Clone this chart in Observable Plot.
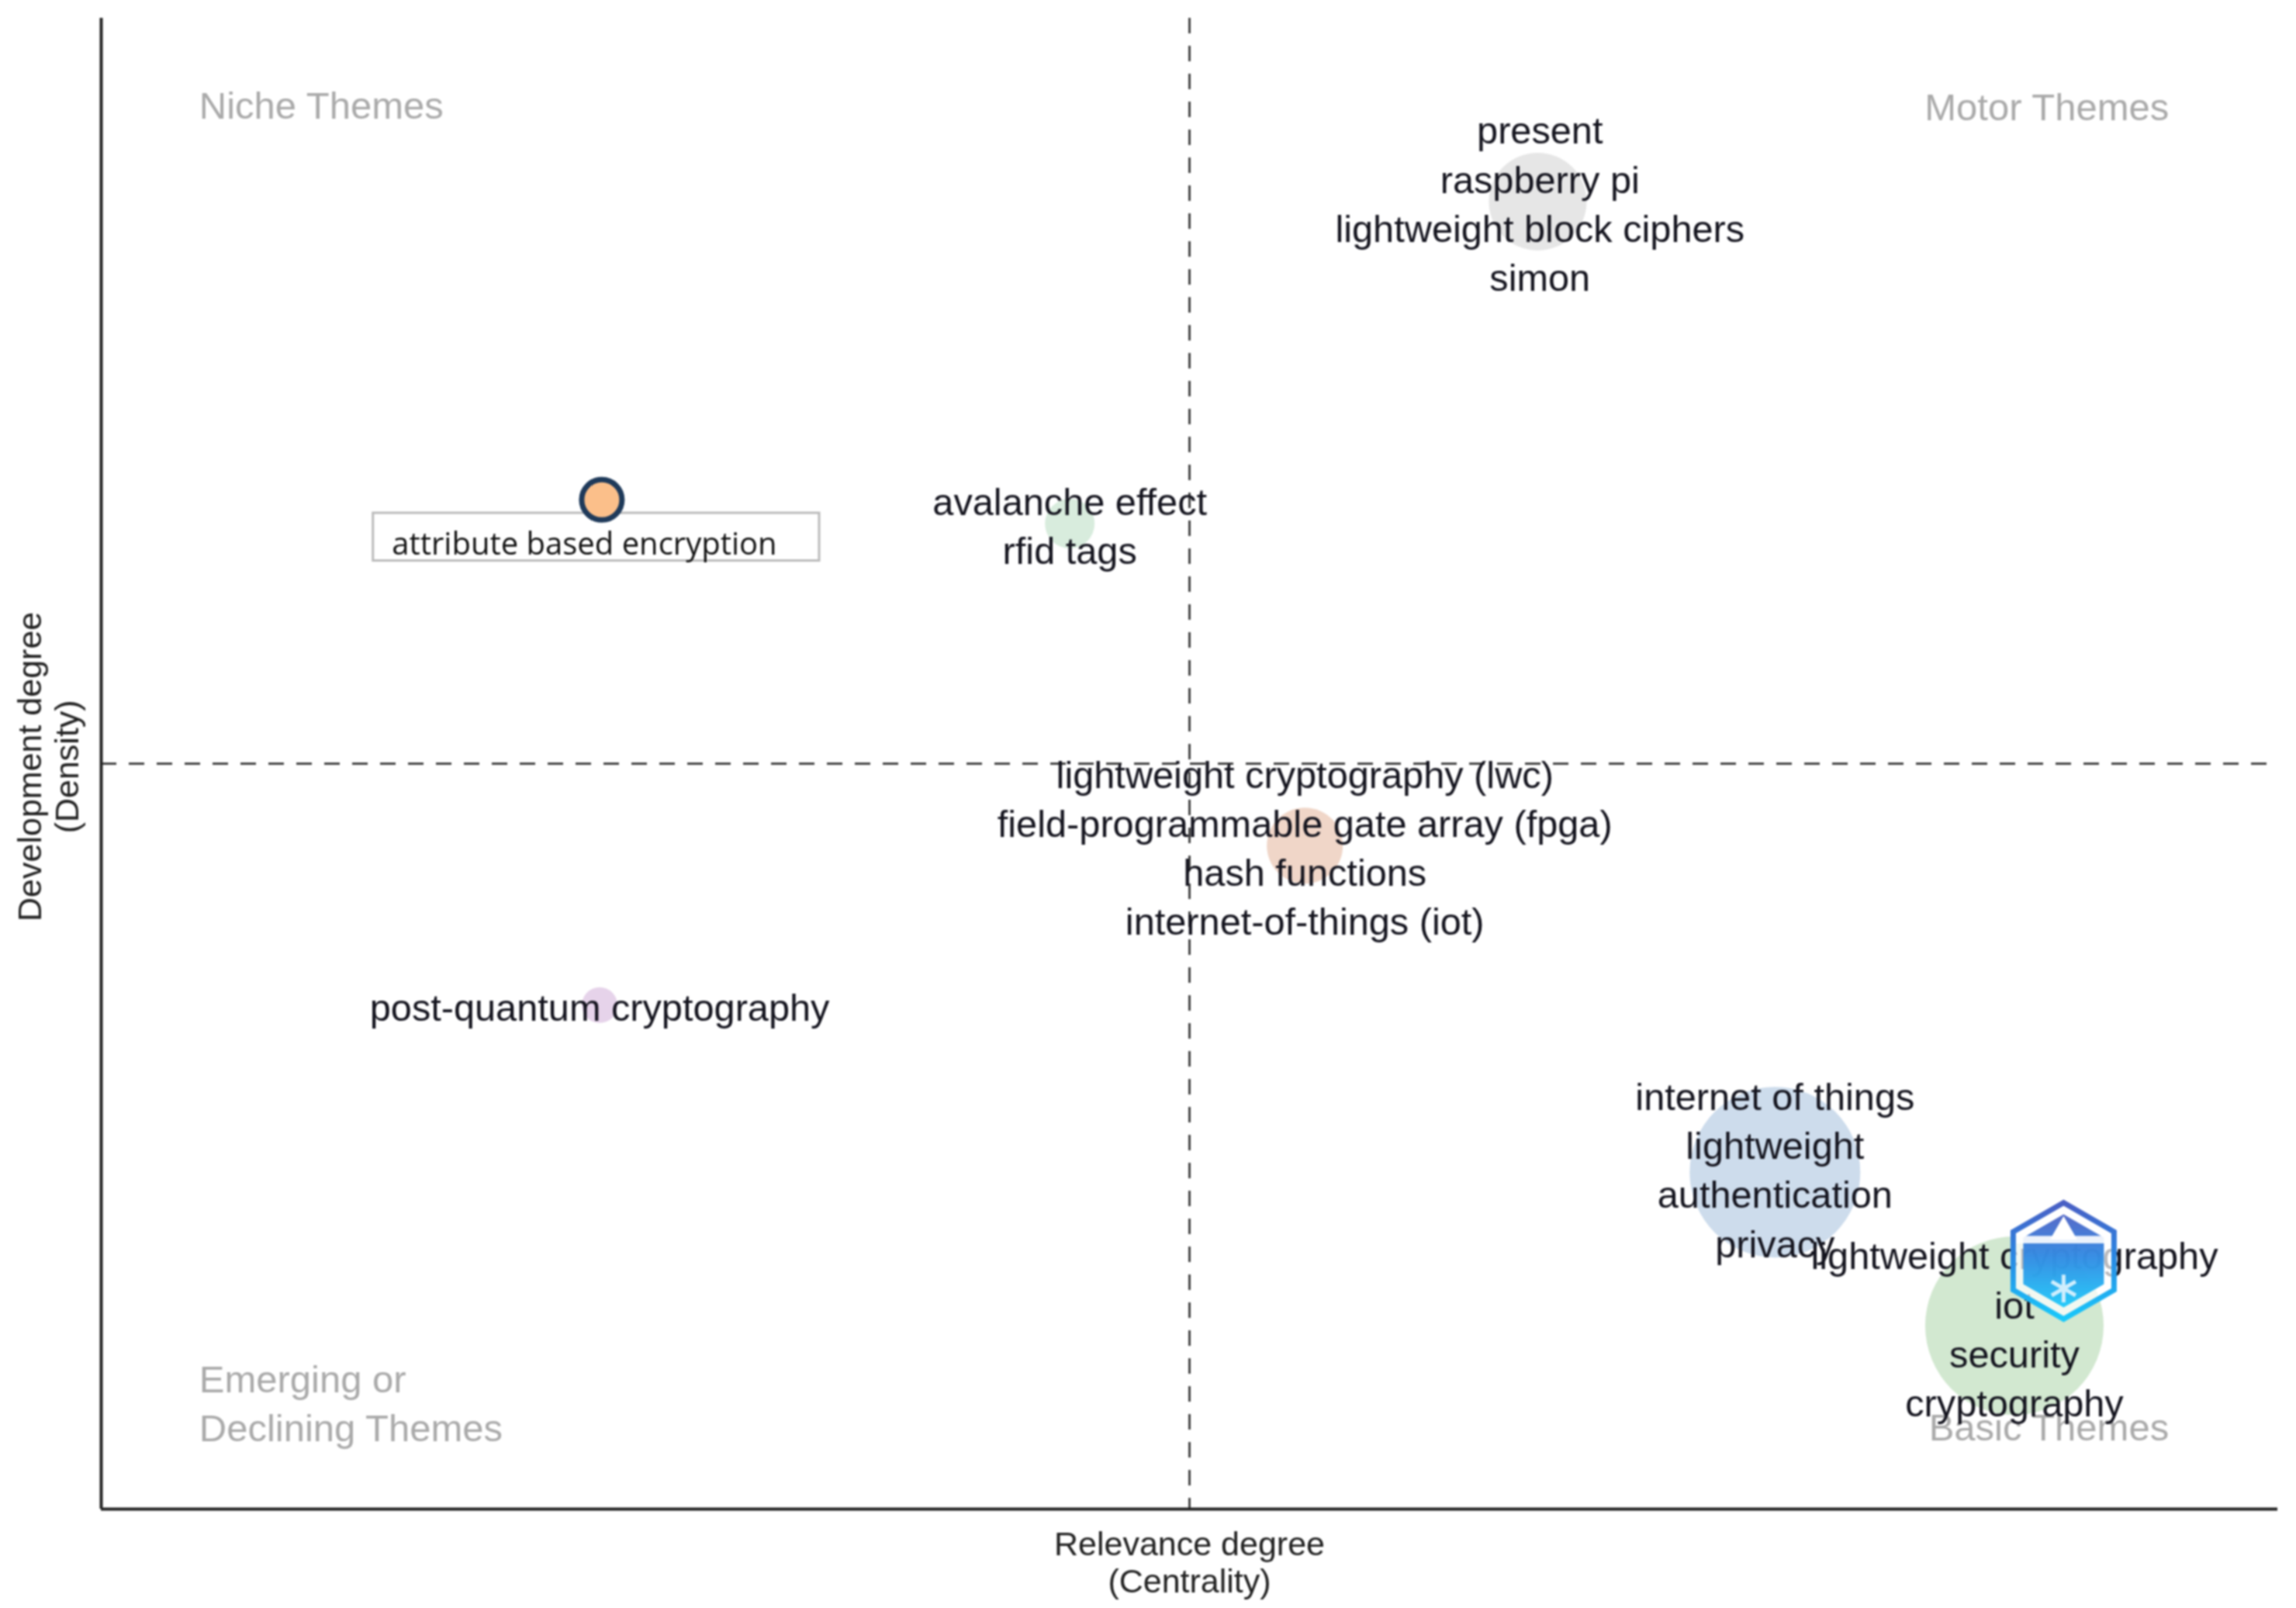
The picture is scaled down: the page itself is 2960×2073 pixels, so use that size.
<!DOCTYPE html>
<html><head><meta charset="utf-8">
<script src="https://cdn.jsdelivr.net/npm/d3@7"></script>
<script src="https://cdn.jsdelivr.net/npm/@observablehq/plot@0.6"></script>
<style>html,body{margin:0;padding:0;background:#fff}svg{display:block;filter:blur(0.9px)}</style>
</head><body><div id="chart"></div>
<script>
const themeLabels = [
  "present\nraspberry pi\nlightweight block ciphers\nsimon",
  "avalanche effect\nrfid tags",
  "lightweight cryptography (lwc)\nfield-programmable gate array (fpga)\nhash functions\ninternet-of-things (iot)",
  "post-quantum cryptography",
  "internet of things\nlightweight\nauthentication\nprivacy",
  "lightweight cryptography\niot\nsecurity\ncryptography"
];
const centrality = [66.0, 44.5, 55.3, 22.9, 76.9, 87.9];
const density    = [87.7, 66.1, 44.5, 33.8, 22.6, 12.3];
const labelX     = [66.1, 44.5, 55.3, 22.9, 76.9, 87.9];
const labelY     = [87.7, 66.1, 44.5, 33.8, 22.9, 12.2];
const bubbleSize = [63, 32, 49, 23, 110, 115];
const bubbleFill = ["#e6e6e6", "#d8ecdd", "#f0d6c8", "#e6d3ea", "#cddcec", "#d2e8d0"];
const leftNames = ["Niche Themes", "Emerging or\nDeclining Themes"];
const leftY = [94.3, 7.25];
const rightNames = ["Motor Themes", "Basic Themes"];
const rightY = [94.0, 5.4];
const highlightName = ["attribute based encryption"];
const highlightX = [23.0], highlightY = [67.7];
const logoX = [90.16], logoY = [16.65];
const xTitle = "Relevance degree\n(Centrality)";
const yTitle = "Development degree\n(Density)";
const idx = themeLabels.map((_, i) => i);

const defs = () => {
  const d = document.createElementNS("http://www.w3.org/2000/svg", "defs");
  d.innerHTML = `<linearGradient id="hexg" x1="0" y1="0" x2="0" y2="1"><stop offset="0" stop-color="#4a5fc4"/><stop offset="0.45" stop-color="#2a86e2"/><stop offset="1" stop-color="#19c9fb"/></linearGradient>`;
  return d;
};

const plot = Plot.plot({
  width: 2960, height: 2073,
  marginLeft: 130, marginRight: 24, marginTop: 23, marginBottom: 128,
  style: {background: "#fff", fontFamily: "Liberation Sans"},
  x: {domain: [0, 100], axis: null},
  y: {domain: [0, 100], axis: null},
  r: {type: "identity"},
  marks: [
    defs,
    Plot.dot(idx, {x: i => centrality[i], y: i => density[i], r: i => bubbleSize[i], fill: i => bubbleFill[i]}),
    Plot.ruleX([50], {stroke: "#444", strokeWidth: 3, strokeDasharray: "20 16"}),
    Plot.ruleY([50], {stroke: "#444", strokeWidth: 3, strokeDasharray: "20 16"}),
    Plot.ruleX([0], {stroke: "#222", strokeWidth: 4}),
    Plot.ruleY([0], {stroke: "#222", strokeWidth: 4}),
    Plot.text(leftNames, {x: 4.5, y: (_, i) => leftY[i], text: d => d, textAnchor: "start", fill: "#aaa", fontSize: 49, lineHeight: 1.29}),
    Plot.text(rightNames, {x: 95.0, y: (_, i) => rightY[i], text: d => d, textAnchor: "end", fill: "#aaa", fontSize: 49}),
    Plot.text(idx, {x: i => labelX[i], y: i => labelY[i], text: i => themeLabels[i], fill: "#14141e", fontSize: 48.7, lineHeight: 1.3}),
    Plot.text([xTitle], {x: 50, y: -3.55, text: d => d, fill: "#222", fontSize: 43, lineHeight: 1.1}),
    Plot.text([yTitle], {x: -2.45, y: 49.8, text: d => d, rotate: -90, fill: "#222", fontSize: 43, lineHeight: 1.1}),
    Plot.rect([0], {x1: 12.5, x2: 33, y1: 63.6, y2: 66.8, fill: "#fff", stroke: "#bbb", strokeWidth: 3}),
    Plot.text(highlightName, {x: 22.2, y: 64.7, text: d => d, fontFamily: "Open Sans", fontSize: 40, fill: "#111"}),
    Plot.dot(highlightName, {x: highlightX, y: highlightY, r: 26, fill: "#fbbf8a", stroke: "#1f3a5a", strokeWidth: 7}),
    Plot.dot(logoX, {x: logoX, y: logoY, symbol: "hexagon", r: 65, fill: "#fff", fillOpacity: 0.7, stroke: "url(#hexg)", strokeWidth: 7}),
    Plot.dot(logoX, {x: logoX, y: logoY, symbol: "hexagon", r: 52, fill: "url(#hexg)", fillOpacity: 0.93}),
    Plot.rect([0], {x1: 88.0, x2: 92.3, y1: 17.8, y2: 18.3, fill: "#fff", fillOpacity: 0.9}),
    Plot.dot(logoX, {x: logoX, y: [18.6], symbol: "triangle", r: 13, fill: "#fff"}),
    Plot.dot(logoX, {x: logoX, y: [14.8], symbol: "asterisk", r: 17, stroke: "#cfeefd", strokeWidth: 5})
  ]
});
document.getElementById("chart").append(plot);
</script>
</body></html>
